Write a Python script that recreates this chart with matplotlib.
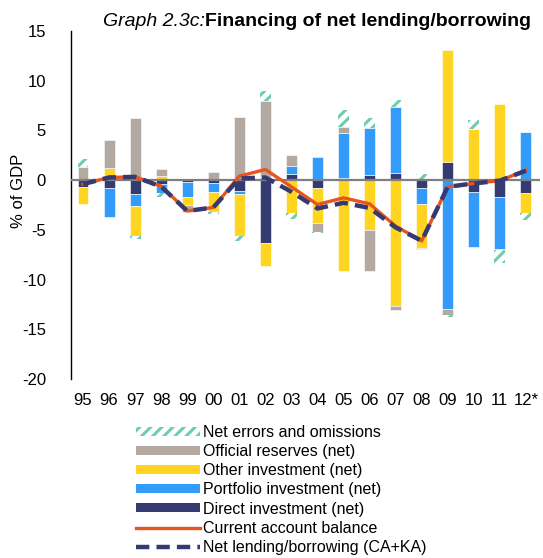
import matplotlib
matplotlib.use("Agg")
import matplotlib.pyplot as plt
import numpy as np
from matplotlib.patches import Patch
from matplotlib.lines import Line2D

plt.rcParams['font.family'] = ['Liberation Sans', 'DejaVu Sans']
plt.rcParams['hatch.linewidth'] = 2.2
plt.rcParams['axes.unicode_minus'] = False

years = ["95", "96", "97", "98", "99", "00", "01", "02", "03", "04",
         "05", "06", "07", "08", "09", "10", "11", "12*"]

direct = [-0.73, -0.77, -1.44, -0.35, -0.17, -0.27, -1.07, -6.3, 0.57, -0.77,
          0.17, 0.5, 0.74, -0.84, 1.84, -1.2, -1.71, -1.34]
portfolio = [0.0, -2.98, -1.14, -0.9, -1.52, -0.88, -0.33, 0.3, 0.87, 2.34,
             4.53, 4.7, 6.6, -1.57, -13.0, -5.5, -5.17, 4.87]
other = [-1.71, 1.24, -3.05, 0.43, -0.84, -2.1, -4.22, -2.35, -3.29, -3.52,
         -9.12, -5.03, -12.65, -4.4, 11.2, 5.1, 7.65, -1.95]
reserves = [1.34, 2.79, 6.27, 0.74, -0.7, 0.83, 6.34, 7.7, 1.07, -0.94,
            0.67, -4.1, -0.37, -0.13, -0.57, 0.0, -0.17, 0.0]
errors = [0.74, 0.0, -0.33, -0.45, 0.0, -0.2, -0.47, 1.0, -0.6, -0.05,
          1.68, 1.0, 0.73, 0.6, -0.2, 0.94, -1.27, -0.74]
current_account = [-0.4, 0.27, 0.33, -0.6, -3.1, -2.75, 0.4, 1.07, -0.67, -2.45,
                   -1.78, -2.38, -4.63, -6.1, -0.67, -0.33, -0.05, 1.0]
net_lending = [-0.4, 0.27, 0.33, -0.65, -3.1, -2.75, 0.17, 0.27, -1.17, -2.85,
               -2.28, -2.8, -4.76, -6.1, -0.67, -0.33, -0.05, 0.95]

c_navy = '#353B71'
c_blue = '#339CFB'
c_yellow = '#FFD521'
c_gray = '#B3A9A0'
c_teal = '#6FCDAE'
c_orange = '#E8541E'

fig = plt.figure(figsize=(5.43, 5.58), dpi=100)
ax = fig.add_axes([71/543, 1-379/558, 469/543, 348/558])

x = np.arange(len(years))
w = 0.42
series = [(direct, c_navy, None), (portfolio, c_blue, None), (other, c_yellow, None),
          (reserves, c_gray, None), (errors, c_teal, '///')]
pos = np.zeros(len(years))
neg = np.zeros(len(years))
for vals, col, hatch in series:
    v = np.array(vals)
    bottoms = np.where(v >= 0, pos, neg)
    if hatch:
        ax.bar(x, v, w, bottom=bottoms, facecolor='white', edgecolor=col,
               hatch=hatch, linewidth=0, zorder=2)
    else:
        ax.bar(x, v, w, bottom=bottoms, color=col, edgecolor='white',
               linewidth=0.4, zorder=2)
    pos = pos + np.where(v >= 0, v, 0)
    neg = neg + np.where(v < 0, v, 0)

ax.axhline(0, color='#7F7F7F', lw=1.6, zorder=3)
ax.plot(x, current_account, color=c_orange, lw=2.4, zorder=4, solid_joinstyle='miter')
ax.plot(x, net_lending, color=c_navy, lw=3.2, zorder=5, dashes=(3.0, 1.6))

ax.set_xlim(-0.46, 17.54)
ax.set_ylim(-20, 15)
ax.set_yticks(range(-20, 16, 5))
ax.set_xticks(x)
ax.set_xticklabels(years)
ax.tick_params(axis='both', length=0, labelsize=12)
ax.tick_params(axis='y', pad=18)
ax.tick_params(axis='x', pad=10)
for s in ['top', 'right', 'bottom']:
    ax.spines[s].set_visible(False)
ax.spines['left'].set_linewidth(1.0)
ax.spines['left'].set_color('black')
ax.set_ylabel('% of GDP', fontsize=12)
ax.yaxis.set_label_coords(-0.097, 0.54)

t1 = fig.text(103/543, 1-22/558, 'Graph 2.3c:', fontsize=14, fontstyle='italic',
              va='center', ha='left')
fig.canvas.draw()
bb = t1.get_window_extent(renderer=fig.canvas.get_renderer())
fig.text(bb.x1/fig.bbox.width, 1-22/558, 'Financing of net lending/borrowing',
         fontsize=14, fontweight='bold', va='center', ha='left')

handles = [
    Patch(facecolor='white', edgecolor=c_teal, hatch='///', linewidth=0),
    Patch(facecolor=c_gray, linewidth=0),
    Patch(facecolor=c_yellow, linewidth=0),
    Patch(facecolor=c_blue, linewidth=0),
    Patch(facecolor=c_navy, linewidth=0),
    Line2D([], [], color=c_orange, lw=2.4),
    Line2D([], [], color=c_navy, lw=3.2, dashes=(3.0, 1.6)),
]
labels = ['Net errors and omissions', 'Official reserves (net)', 'Other investment (net)',
          'Portfolio investment (net)', 'Direct investment (net)',
          'Current account balance', 'Net lending/borrowing (CA+KA)']
fig.legend(handles, labels, loc='upper left', bbox_to_anchor=(136/543, 1-425/558),
           frameon=False, fontsize=11.5, handlelength=4.0, handleheight=0.5,
           handletextpad=0.2, labelspacing=0.26, borderpad=0, borderaxespad=0)

fig.savefig('out.png', dpi=100)
